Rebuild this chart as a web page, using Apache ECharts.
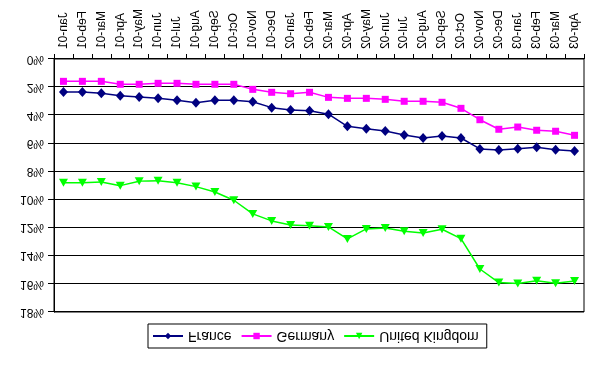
<!DOCTYPE html>
<html>
<head>
<meta charset="utf-8">
<script src="https://cdn.jsdelivr.net/npm/echarts@6/dist/echarts.min.js"></script>
<style>
  html, body { margin: 0; padding: 0; background: #fff; }
  #chart { width: 601px; height: 367px; transform: scaleY(-1); }
</style>
</head>
<body>
<div id="chart"></div>
<script>
const categories = ['Jan-01','Feb-01','Mar-01','Apr-01','May-01','Jun-01','Jul-01','Aug-01','Sep-01','Oct-01','Nov-01','Dec-01',
  'Jan-02','Feb-02','Mar-02','Apr-02','May-02','Jun-02','Jul-02','Aug-02','Sep-02','Oct-02','Nov-02','Dec-02',
  'Jan-03','Feb-03','Mar-03','Apr-03'];
const france = [2.35,2.35,2.44,2.61,2.70,2.80,2.94,3.11,2.94,2.94,3.04,3.46,3.63,
  3.68,3.93,4.79,4.96,5.12,5.41,5.62,5.48,5.62,6.40,6.47,6.38,6.28,6.45,6.54];
const germany = [1.59,1.59,1.59,1.80,1.80,1.73,1.73,1.80,1.80,1.80,2.16,2.37,2.47,
  2.37,2.73,2.80,2.80,2.87,3.01,3.01,3.08,3.51,4.32,5.00,4.84,5.07,5.14,5.43];
const uk = [8.80,8.80,8.75,9.01,8.70,8.66,8.80,9.08,9.46,10.05,11.02,11.52,11.81,
  11.86,11.95,12.80,12.09,12.02,12.25,12.38,12.11,12.78,14.94,15.91,15.98,15.77,15.95,15.79];
const seriesNames = ['France','Germany','United Kingdom'];

const chart = echarts.init(document.getElementById('chart'), null, {renderer: 'canvas'});
const font = 'Liberation Sans, Arial, sans-serif';
chart.setOption({
  animation: false,
  backgroundColor: '#fff',
  textStyle: { fontFamily: font },
  grid: { left: 54, right: 17, top: 55, bottom: 59, show: true, borderColor: '#000', borderWidth: 1, backgroundColor: 'transparent' },
  legend: {
    left: 148, top: 19, padding: [5, 8, 5, 4], itemGap: 9, itemWidth: 30, itemHeight: 8,
    borderColor: '#000', borderWidth: 1,
    textStyle: { fontSize: 14, color: '#000', fontFamily: font },
    data: seriesNames
  },
  xAxis: {
    type: 'category', data: categories, boundaryGap: true,
    axisLine: { lineStyle: { color: '#000', width: 1 } },
    axisTick: { show: true, length: 5, lineStyle: { color: '#000' } },
    axisLabel: { rotate: 90, interval: 0, fontSize: 12, color: '#000', margin: 10, fontFamily: font }
  },
  yAxis: {
    type: 'value', min: 0, max: 18, interval: 2,
    axisLine: { show: true, lineStyle: { color: '#000', width: 1 } },
    axisTick: { show: true, length: 6, lineStyle: { color: '#000' } },
    axisLabel: { formatter: '{value}%', fontSize: 12, color: '#000', margin: 10, fontFamily: font },
    splitLine: { lineStyle: { color: '#000', width: 1 } }
  },
  series: [
    { name: seriesNames[0], type: 'line', data: france, symbol: 'diamond', symbolSize: [9, 10],
      itemStyle: { color: '#000080' }, lineStyle: { color: '#000080', width: 1.5 } },
    { name: seriesNames[1], type: 'line', data: germany, symbol: 'rect', symbolSize: 7,
      itemStyle: { color: '#FF00FF' }, lineStyle: { color: '#FF00FF', width: 1.5 } },
    { name: seriesNames[2], type: 'line', data: uk, symbol: 'triangle', symbolSize: [9, 8],
      itemStyle: { color: '#00FF00' }, lineStyle: { color: '#00FF00', width: 1.5 } }
  ]
});
</script>
</body>
</html>
